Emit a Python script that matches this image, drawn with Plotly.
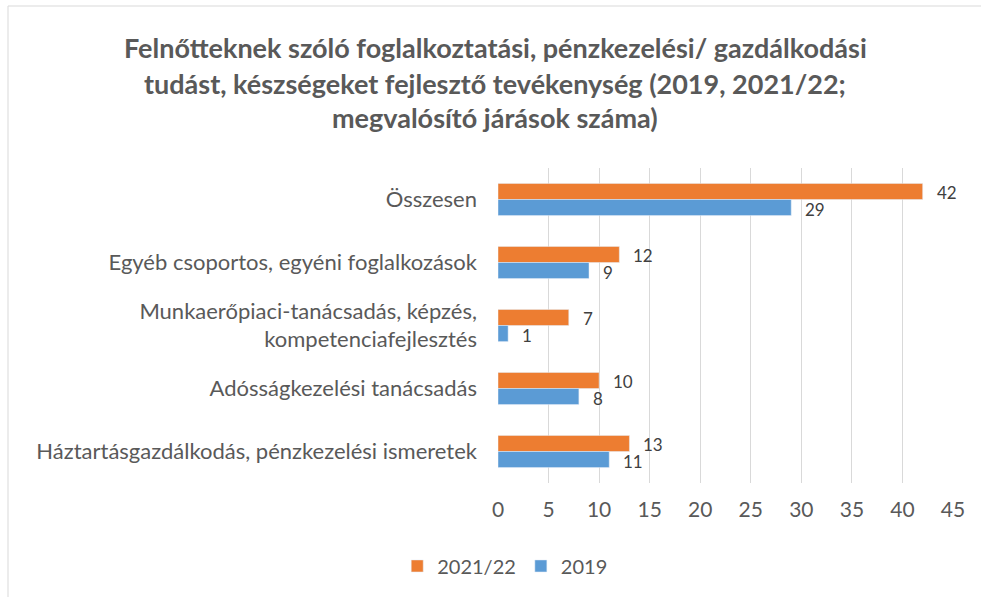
import plotly.graph_objects as go

# categories, top to bottom
categories = [
    "Összesen",
    "Egyéb csoportos, egyéni foglalkozások",
    "Munkaerőpiaci-tanácsadás, képzés,<br>kompetenciafejlesztés",
    "Adósságkezelési tanácsadás",
    "Háztartásgazdálkodás, pénzkezelési ismeretek",
]
values_2021_22 = [42, 12, 7, 10, 13]
values_2019 = [29, 9, 1, 8, 11]

title_lines = [
    "Felnőtteknek szóló foglalkoztatási, pénzkezelési/ gazdálkodási",
    "tudást, készségeket fejlesztő tevékenység (2019, 2021/22;",
    "megvalósító járások száma)",
]

FONT = "Lato, 'Open Sans', sans-serif"
GREY = "#595959"

fig = go.Figure()
fig.add_trace(go.Bar(y=categories, x=values_2021_22, name="2021/22",
                     orientation="h", marker_color="#ED7D31"))
fig.add_trace(go.Bar(y=categories, x=values_2019, name="2019",
                     orientation="h", marker_color="#5B9BD5"))

# plot area in pixels: x 498..953, y 168..483
L, T, R, B = 498, 168, 28, 114
W, H = 981 - L - R, 597 - T - B

def px_x(p):
    return (p - L) / W

def px_y(p):
    return (597 - B - p) / H

annotations = []
for i, line in enumerate(title_lines):
    annotations.append(dict(
        text="<b>%s</b>" % line, xref="paper", yref="paper",
        x=px_x(495), y=px_y([47, 83, 118][i]), xanchor="center", yanchor="middle",
        showarrow=False, font=dict(family=FONT, size=27, color=GREY),
    ))

# data labels next to the bars (orange above, blue below the category centre)
for vals, shift in [(values_2021_22, 7), (values_2019, -10)]:
    for cat, v in zip(categories, vals):
        annotations.append(dict(
            text=str(v), x=v, y=cat, xref="x", yref="y",
            xanchor="left", yanchor="middle", xshift=13, yshift=shift,
            showarrow=False, borderpad=0,
            font=dict(family=FONT, size=17, color="#404040"),
        ))

shapes = [
    dict(type="line", xref="paper", yref="paper", x0=px_x(8), x1=px_x(990),
         y0=px_y(6), y1=px_y(6), line=dict(color="#d9d9d9", width=1)),
    dict(type="line", xref="paper", yref="paper", x0=px_x(8), x1=px_x(8),
         y0=px_y(6), y1=px_y(600), line=dict(color="#d9d9d9", width=1)),
]

fig.update_layout(
    width=981, height=597,
    margin=dict(l=L, r=R, t=T, b=B),
    paper_bgcolor="white", plot_bgcolor="white",
    barmode="group", bargap=0.49, bargroupgap=0,
    font=dict(family=FONT, size=21, color=GREY),
    annotations=annotations, shapes=shapes,
    legend=dict(orientation="h", xref="container", yref="container",
                x=0.515, y=0.052, xanchor="center", yanchor="middle",
                font=dict(size=20, color=GREY), traceorder="normal"),
    xaxis=dict(range=[0, 45], dtick=5, showgrid=True, gridcolor="#d9d9d9",
               gridwidth=1, zeroline=False, showline=False,
               tickfont=dict(size=21, color=GREY), ticklabelstandoff=12),
    yaxis=dict(autorange="reversed", showgrid=False, showline=False,
               tickfont=dict(size=22, color=GREY), ticklabelstandoff=20),
)

fig.write_html("out.html", config={"displayModeBar": False},
               post_script="document.body.style.margin='0';")
